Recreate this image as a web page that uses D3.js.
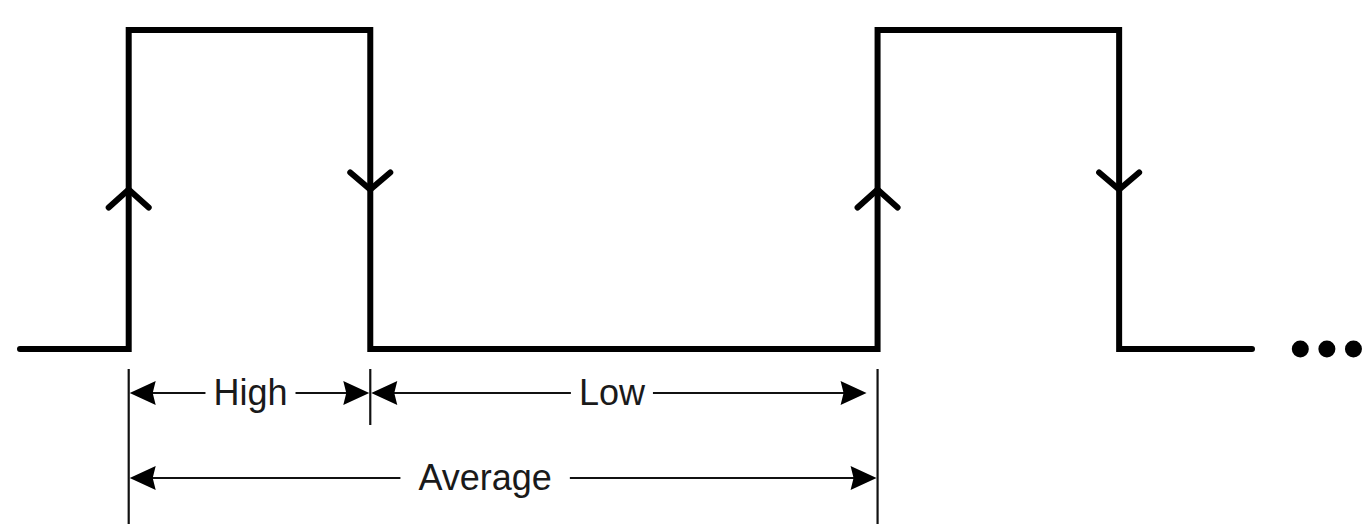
<!DOCTYPE html>
<html>
<head>
	<title>PWM signal: high, low and average period</title>
	<script src="https://d3js.org/d3.v7.min.js"></script>
	<style>
		body{
			margin: 0;
			background: #fff;
		}
		svg{
			display: block;
		}
		.label{
			font-family: 'Liberation Sans', Arial, sans-serif;
			font-size: 36px;
			fill: #1a1a1a;
		}
	</style>
</head>
<body>
	<script>
		// signal, in time units (1 unit = one tenth of the high time)
		var startTime = -4.5
		var endTime = 46.5
		var edgeTimes = [0, 10, 31, 41]
		var edgeLevels = [1, 0, 1, 0]
		var dotTimes = [48.5, 49.6, 50.7]

		// dimension arrows under the signal
		var dimLabels = ['High', 'Low', 'Average']
		var dimFrom = [0, 10, 0]
		var dimTo = [10, 31, 31]
		var dimRow = [0, 0, 1]

		// extension lines: time, and whether they run to the bottom
		var extTimes = [0, 10, 31]
		var extLong = [true, false, true]

		var width = 1362
		var height = 524

		var svg = d3.select('body').append('svg')
					.attr('width', width)
					.attr('height', height)

		var xScale = d3.scaleLinear().domain([startTime, endTime]).range([20, 1252])
		var yScale = d3.scaleLinear().domain([0, 1]).range([349, 30])
		var rowY = [393, 478]

		// waveform
		var wave = [[startTime, 0]]
		edgeTimes.forEach(function(t, i){ wave.push([t, edgeLevels[i]]) })
		wave.push([endTime, 0])

		var line = d3.line()
					 .x(function(d){ return xScale(d[0]) })
					 .y(function(d){ return yScale(d[1]) })
					 .curve(d3.curveStepAfter)

		svg.append('path')
		   .datum(wave)
		   .attr('d', line)
		   .attr('fill', 'none')
		   .attr('stroke', '#000')
		   .attr('stroke-width', 6)
		   .attr('stroke-linejoin', 'miter')
		   .attr('stroke-linecap', 'round')

		// chevrons on the edges
		svg.selectAll('.chevron').data(edgeTimes).enter()
		   .append('path')
		   .attr('class', 'chevron')
		   .attr('d', function(t, i){
			   var x = xScale(t)
			   var y = yScale(0.5)
			   var dy = edgeLevels[i] === 1 ? 18 : -17
			   return 'M' + (x - 20) + ',' + (y + dy) + 'L' + x + ',' + y + 'L' + (x + 20) + ',' + (y + dy)
		   })
		   .attr('fill', 'none')
		   .attr('stroke', '#000')
		   .attr('stroke-width', 6)
		   .attr('stroke-linecap', 'round')
		   .attr('stroke-linejoin', 'miter')

		// continuation dots
		svg.selectAll('.dot').data(dotTimes).enter()
		   .append('circle')
		   .attr('class', 'dot')
		   .attr('cx', function(d){ return xScale(d) })
		   .attr('cy', yScale(0))
		   .attr('r', 8.5)
		   .attr('fill', '#000')

		// extension lines
		svg.selectAll('.ext').data(extTimes).enter()
		   .append('line')
		   .attr('class', 'ext')
		   .attr('x1', function(d){ return xScale(d) })
		   .attr('x2', function(d){ return xScale(d) })
		   .attr('y1', 369)
		   .attr('y2', function(d, i){ return extLong[i] ? height : 425 })
		   .attr('stroke', '#111')
		   .attr('stroke-width', 2.2)

		// dimension arrows
		var arrowHead = function(x, y, dir){
			// filled head, tip at x, pointing in dir (+1 right, -1 left)
			var len = 26, half = 12, notch = 3
			var p = d3.path()
			p.moveTo(x, y)
			p.lineTo(x - dir * len, y - half)
			p.lineTo(x - dir * (len - notch), y)
			p.lineTo(x - dir * len, y + half)
			p.closePath()
			return p.toString()
		}
		var labelShift = {High: 1, Low: -7, Average: -18}
		var labelGap = {High: 8, Low: 8, Average: 18}
		var endInset = {High: [1, 1], Low: [1, 11], Average: [1, 1]}

		dimLabels.forEach(function(label, i){
			var x0 = xScale(dimFrom[i]) + endInset[label][0]
			var x1 = xScale(dimTo[i]) - endInset[label][1]
			var y = rowY[dimRow[i]]
			var g = svg.append('g').attr('class', 'dim')

			var text = g.append('text')
						.attr('class', 'label')
						.attr('x', (x0 + x1) / 2 + labelShift[label])
						.attr('y', y + 12)
						.attr('text-anchor', 'middle')
						.text(label)
			var w = text.node().getComputedTextLength()
			var cx = (x0 + x1) / 2 + labelShift[label]
			var gap = labelGap[label]

			g.append('line')
			 .attr('x1', x0 + 10).attr('x2', cx - w / 2 - gap)
			 .attr('y1', y).attr('y2', y)
			 .attr('stroke', '#111').attr('stroke-width', 2.2)
			g.append('line')
			 .attr('x1', cx + w / 2 + gap).attr('x2', x1 - 10)
			 .attr('y1', y).attr('y2', y)
			 .attr('stroke', '#111').attr('stroke-width', 2.2)
			g.append('path').attr('d', arrowHead(x0, y, -1)).attr('fill', '#000')
			g.append('path').attr('d', arrowHead(x1, y, 1)).attr('fill', '#000')
		})
	</script>
</body>
</html>
